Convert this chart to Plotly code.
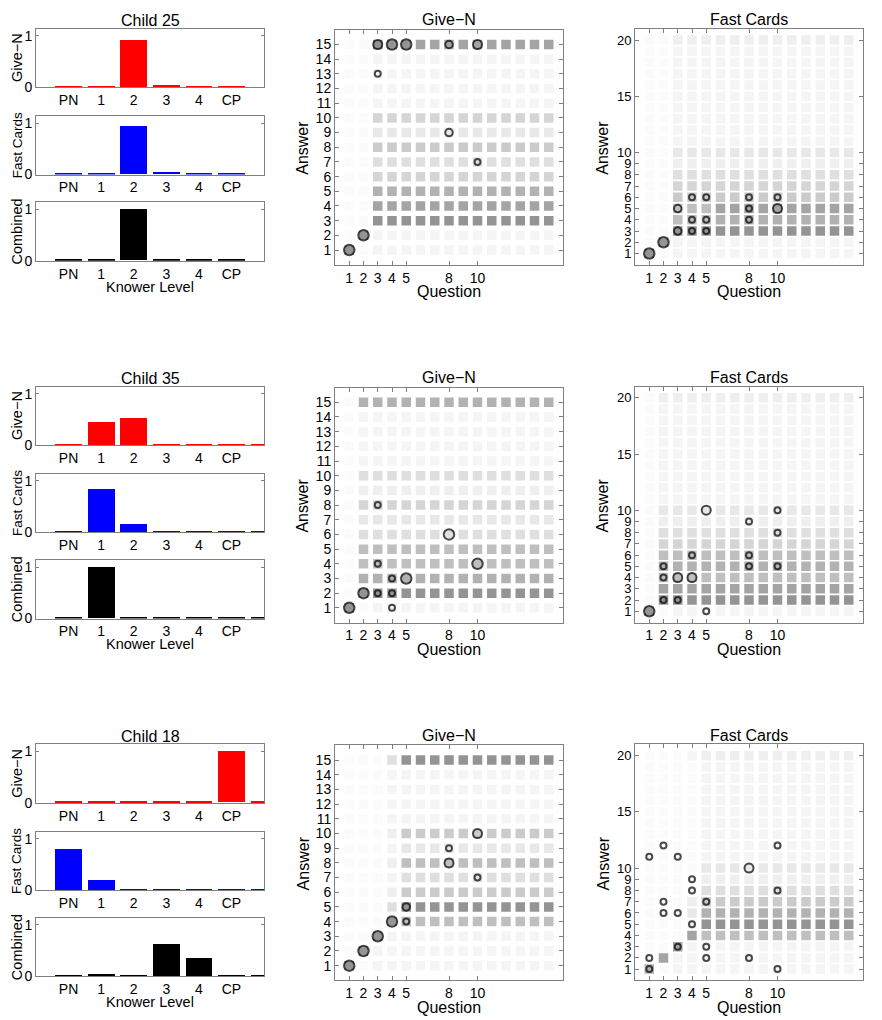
import plotly.graph_objects as go

W, H = 882, 1020
# the page body has an 8px margin, so screen positions are shifted by it
OX, OY = 8, 8
FONT = "Liberation Sans, Arial, sans-serif"

children = ["Child 25", "Child 35", "Child 18"]
knower_labels = ["PN", "1", "2", "3", "4", "CP"]
question_ticks = [1, 2, 3, 4, 5, 8, 10]
fc_answer_ticks = [1, 2, 3, 4, 5, 6, 7, 8, 9, 10, 15, 20]

# posterior over knower levels (last entry is the clipped extra bar)
give_n_post = [
    [0.015, 0.015, 0.93, 0.05, 0.02, 0.015, 0.0],
    [0.02, 0.46, 0.53, 0.01, 0.01, 0.01, 0.012],
    [0.012, 0.012, 0.012, 0.012, 0.012, 0.99, 0.012],
]
fast_cards_post = [
    [0.015, 0.02, 0.94, 0.04, 0.015, 0.015, 0.0],
    [0.02, 0.84, 0.17, 0.03, 0.015, 0.015, 0.015],
    [0.81, 0.20, 0.015, 0.015, 0.015, 0.015, 0.015],
]
combined_post = [
    [0.01, 0.01, 0.99, 0.01, 0.01, 0.01, 0.0],
    [0.01, 0.99, 0.03, 0.01, 0.01, 0.01, 0.01],
    [0.01, 0.04, 0.01, 0.64, 0.35, 0.01, 0.01],
]

# predicted answer probability, grey level per cell; top row = highest answer
grey = {".": "#fbfbfb", "0": "#f5f5f5", "1": "#efefef", "2": "#e8e8e8",
        "3": "#dfdfdf", "4": "#d5d5d5", "5": "#cbcbcb", "6": "#bfbfbf",
        "7": "#b2b2b2", "8": "#a4a4a4", "9": "#949494"}

give_n_grid_25 = [
    "..9998888888888",
    "..0000000000000",
    "..0000000000000",
    "..0000000000000",
    "..0000000000000",
    "..4444444444444",
    "..2222222222222",
    "..5555555555555",
    "..3333333333333",
    "..4444444444444",
    "..7777777777777",
    "..8888888888888",
    "..9999999999999",
    ".90000000000000",
    "9.0000000000000",
]
fast_cards_grid_25 = [
    "..1111111111111",
    "..0000000000000",
    "..0000000000000",
    "..0000000000000",
    "..0000000000000",
    "..0000000000000",
    "..0000000000000",
    "..0000000000000",
    "..0000000000000",
    "..0000000000000",
    "..2222222222222",
    "..1111111111111",
    "..3333333333333",
    "..4444444444444",
    "..5555555555555",
    "..6668888888888",
    "..6667777777777",
    "..9999999999999",
    ".90000000000000",
    "9.0000000000000",
]
give_n_grid_35 = [
    ".77777777777777",
    ".00000000000000",
    ".00000000000000",
    ".00000000000000",
    ".00000000000000",
    ".33333333333333",
    ".11111111111111",
    ".44444444444444",
    ".22222222222222",
    ".33333333333333",
    ".66666666666666",
    ".66666666666666",
    ".77777777777777",
    ".99999999999999",
    "9.0000000000000",
]
fast_cards_grid_35 = [
    ".11111111111111",
    ".00000000000000",
    ".00000000000000",
    ".00000000000000",
    ".00000000000000",
    ".00000000000000",
    ".00000000000000",
    ".00000000000000",
    ".00000000000000",
    ".00000000000000",
    ".22222222222222",
    ".11111111111111",
    ".33333333333333",
    ".44444444444444",
    ".66666666666666",
    ".77777777777777",
    ".66666666666666",
    ".88888888888888",
    ".99999999999999",
    "9.0000000000000",
]
give_n_grid_18 = [
    "...399999999999",
    "...000000000000",
    "...000000000000",
    "...000000000000",
    "...000000000000",
    "...155555555555",
    "...022222222222",
    "...166666666666",
    "...033333333333",
    "...155555555555",
    "...399999999999",
    "...966666666666",
    "..9000000000000",
    ".90000000000000",
    "9.0000000000000",
]
fast_cards_grid_18 = [
    "...011111111111",
    "....00000000000",
    "....00000000000",
    "....00000000000",
    "....00000000000",
    "....00000000000",
    "....00000000000",
    "....00000000000",
    "....00000000000",
    "....00000000000",
    "....22222222222",
    "....11111111111",
    "....33333333333",
    "...155555555555",
    "...277777777777",
    "...099999999999",
    "...866666666666",
    "..8000000000000",
    ".80000000000000",
    "7.0000000000000",
]

# observed answers: (question, answer, count)
give_n_obs_25 = [(1, 1, 4), (2, 2, 4), (3, 15, 3), (4, 15, 4), (5, 15, 4),
                 (8, 15, 2), (10, 15, 3), (3, 13, 1), (8, 9, 2), (10, 7, 1)]
fast_cards_obs_25 = [(1, 1, 4), (2, 2, 4), (3, 3, 2), (3, 5, 2), (4, 3, 1),
                     (4, 4, 1), (4, 6, 1), (5, 3, 1), (5, 4, 1), (5, 6, 1),
                     (8, 4, 1), (8, 5, 1), (8, 6, 1), (10, 6, 1), (10, 5, 3)]
give_n_obs_35 = [(1, 1, 4), (2, 2, 4), (3, 8, 1), (3, 4, 1), (3, 2, 1),
                 (4, 3, 1), (4, 2, 1), (4, 1, 1), (5, 3, 4), (8, 6, 4), (10, 4, 4)]
fast_cards_obs_35 = [(1, 1, 4), (2, 2, 1), (2, 4, 1), (2, 5, 1), (3, 2, 1),
                     (3, 4, 3), (4, 4, 3), (4, 6, 1), (5, 10, 3), (5, 1, 1),
                     (8, 9, 1), (8, 6, 1), (8, 5, 1), (10, 10, 1), (10, 8, 1), (10, 5, 1)]
give_n_obs_18 = [(1, 1, 4), (2, 2, 4), (3, 3, 4), (4, 4, 4), (5, 5, 2),
                 (5, 4, 1), (8, 9, 1), (8, 8, 3), (10, 10, 3), (10, 7, 1)]
fast_cards_obs_18 = [(1, 1, 1), (1, 2, 1), (1, 11, 1), (2, 6, 1), (2, 7, 1),
                     (2, 12, 1), (3, 3, 1), (3, 6, 1), (3, 11, 1), (4, 5, 1),
                     (4, 8, 1), (4, 9, 1), (5, 2, 1), (5, 3, 1), (5, 7, 1),
                     (8, 2, 1), (8, 10, 3), (10, 1, 1), (10, 8, 1), (10, 12, 1)]

give_n_grids = [give_n_grid_25, give_n_grid_35, give_n_grid_18]
fast_cards_grids = [fast_cards_grid_25, fast_cards_grid_35, fast_cards_grid_18]
give_n_obs = [give_n_obs_25, give_n_obs_35, give_n_obs_18]
fast_cards_obs = [fast_cards_obs_25, fast_cards_obs_35, fast_cards_obs_18]

circle_size = {1: 6, 2: 7.5, 3: 9, 4: 10.5}


def dom_x(x0, x1):
    return [(x0 - OX) / W, (x1 - OX) / W]


def dom_y(y0, y1):
    return [1 - (y1 - OY) / H, 1 - (y0 - OY) / H]


base_axis = dict(showline=True, linecolor="#808080", linewidth=1, mirror="ticks",
                 ticks="inside", ticklen=4, tickcolor="#808080", showgrid=False,
                 zeroline=False, tickfont=dict(size=14, color="black", family=FONT))

fig = go.Figure()
layout = {}
annotations = []


def label(text, x, y, size, angle=0):
    annotations.append(dict(text=text, x=(x - OX) / W, y=1 - (y - OY) / H,
                            xref="paper", yref="paper", showarrow=False, textangle=angle,
                            xanchor="center", yanchor="middle",
                            font=dict(size=size, family=FONT, color="black")))


def grid_traces(grid, obs, ax):
    n = len(grid)
    xs, ys, cs = [], [], []
    for i, row in enumerate(grid):
        for j, ch in enumerate(row):
            xs.append(j + 1)
            ys.append(n - i)
            cs.append(grey[ch])
    fig.add_trace(go.Scatter(x=xs, y=ys, mode="markers", xaxis="x%d" % ax, yaxis="y%d" % ax,
                             marker=dict(symbol="square", size=9.5, color=cs, line=dict(width=0)),
                             showlegend=False, hoverinfo="skip"))
    fig.add_trace(go.Scatter(x=[o[0] for o in obs], y=[o[1] for o in obs], mode="markers",
                             xaxis="x%d" % ax, yaxis="y%d" % ax,
                             marker=dict(symbol="circle", size=[circle_size[o[2]] for o in obs],
                                         color="rgba(0,0,0,0)", line=dict(color="black", width=2)),
                             showlegend=False))


row_off = [0, 361, 722]
bar_boxes = [(28, 87), (116, 175), (203, 262)]
bar_sets = [(give_n_post, "red", "Give−N", 14.5), (fast_cards_post, "blue", "Fast Cards", 13.5),
            (combined_post, "black", "Combined", 14.5)]

ax = 0
for r, child in enumerate(children):
    off = row_off[r]
    for b, (post, color, name, fsize) in enumerate(bar_sets):
        ax += 1
        vals = post[r]
        fig.add_trace(go.Bar(x=list(range(len(vals))), y=vals, marker_color=color,
                             marker_line_width=0, width=0.82, xaxis="x%d" % ax,
                             yaxis="y%d" % ax, showlegend=False))
        y0, y1 = bar_boxes[b]
        layout["xaxis%d" % ax] = dict(base_axis, domain=dom_x(36, 264), range=[-1, 6],
                                      tickvals=list(range(len(knower_labels))),
                                      ticktext=knower_labels, ticks="", anchor="y%d" % ax)
        layout["yaxis%d" % ax] = dict(base_axis, domain=dom_y(y0 + off, y1 + off),
                                      range=[0, 1.135], tickvals=[0, 1], ticklen=3,
                                      anchor="x%d" % ax)
        label(name, 17, (y0 + y1) / 2 + off, fsize, -90)
    label(child, 150, 20 + off, 16)
    label("Knower Level", 150, 288 + off, 14.5)

    # Give-N answers
    ax += 1
    grid_traces(give_n_grids[r], give_n_obs[r], ax)
    layout["xaxis%d" % ax] = dict(base_axis, domain=dom_x(335, 563), range=[0, 16],
                                  tickvals=question_ticks, anchor="y%d" % ax)
    layout["yaxis%d" % ax] = dict(base_axis, domain=dom_y(29 + off, 266 + off), range=[0, 16],
                                  tickvals=list(range(1, 16)), anchor="x%d" % ax)
    label("Give−N", 449, 19 + off, 16)
    label("Answer", 303, 148 + off, 16, -90)
    label("Question", 449, 293 + off, 16)

    # Fast Cards answers
    ax += 1
    grid_traces(fast_cards_grids[r], fast_cards_obs[r], ax)
    layout["xaxis%d" % ax] = dict(base_axis, domain=dom_x(635, 863), range=[0, 16],
                                  tickvals=question_ticks, anchor="y%d" % ax)
    layout["yaxis%d" % ax] = dict(base_axis, domain=dom_y(28 + off, 266 + off), range=[0, 21],
                                  tickvals=fc_answer_ticks, anchor="x%d" % ax,
                                  tickfont=dict(size=13, color="black", family=FONT))
    label("Fast Cards", 749, 19 + off, 16)
    label("Answer", 603, 148 + off, 16, -90)
    label("Question", 749, 293 + off, 16)

layout["xaxis"] = layout.pop("xaxis1")
layout["yaxis"] = layout.pop("yaxis1")
fig.update_layout(**layout)
fig.update_layout(width=W, height=H, margin=dict(l=0, r=0, t=0, b=0),
                  paper_bgcolor="white", plot_bgcolor="white", bargap=0,
                  font=dict(family=FONT, color="black"), annotations=annotations)

fig.write_html("out.html")
